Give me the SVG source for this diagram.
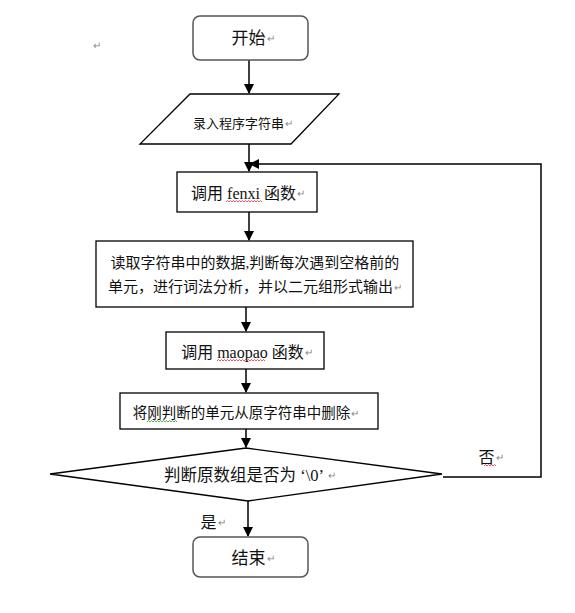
<svg xmlns="http://www.w3.org/2000/svg" width="575" height="613" viewBox="0 0 575 613">
<style>
.box{fill:#fff;stroke:#000;stroke-width:1.3}
.rbox{fill:#fff;stroke:#555;stroke-width:1.5}
.t{font-family:"Liberation Serif","Noto Sans CJK SC",serif;fill:#111;text-anchor:middle;dominant-baseline:central}
.pm{fill:#888;font-size:10px}
.ln{fill:none;stroke:#000;stroke-width:1.5}
.wav{fill:none;stroke:#e03030;stroke-width:0.8}
.wavg{fill:none;stroke:#2a9a2a;stroke-width:0.8}
</style>
<defs>
<marker id="ah" markerWidth="10" markerHeight="10" refX="9" refY="5" orient="auto" markerUnits="userSpaceOnUse">
<path d="M0,0 L10,5 L0,10 z" fill="#000"/>
</marker>
</defs>
<rect width="575" height="613" fill="#fff"/>
<text class="t pm" x="97" y="45">↵</text>
<g id="connectors">
<line class="ln" x1="249" y1="60" x2="249" y2="93" marker-end="url(#ah)"/>
<line class="ln" x1="249" y1="144" x2="249" y2="171" marker-end="url(#ah)"/>
<line class="ln" x1="249" y1="212" x2="249" y2="240" marker-end="url(#ah)"/>
<line class="ln" x1="246" y1="307" x2="246" y2="331" marker-end="url(#ah)"/>
<line class="ln" x1="246" y1="369" x2="246" y2="392" marker-end="url(#ah)"/>
<line class="ln" x1="246" y1="429" x2="246" y2="447" marker-end="url(#ah)"/>
<line class="ln" x1="248" y1="501" x2="248" y2="536" marker-end="url(#ah)"/>
<polyline class="ln" points="443,477 541,477 541,164 250,164" marker-end="url(#ah)"/>
<text class="t" x="491" y="457" font-size="16">否<tspan class="pm" dx="1">↵</tspan></text>
<path class="wav" d="M484,466 l1.5,-1.5 l1.5,1.5 l1.5,-1.5 l1.5,1.5 l1.5,-1.5 l1.5,1.5 l1.5,-1.5 l1.5,1.5"/>
<text class="t" x="213" y="522" font-size="16">是<tspan class="pm" dx="1">↵</tspan></text>
</g>
<g id="start">
<rect class="rbox" x="193" y="16" width="115" height="44" rx="7"/>
<text class="t" x="253" y="38" font-size="17">开始<tspan class="pm" dx="1">↵</tspan></text>
</g>
<g id="input">
<polygon class="box" points="190,94 339,94 291,144 140,144"/>
<text class="t" x="243" y="123" font-size="13">录入程序字符串<tspan class="pm" dx="1">↵</tspan></text>
</g>
<g id="fenxi">
<rect class="box" x="177" y="172" width="140" height="40"/>
<text class="t" x="248" y="193" font-size="16">调用 fenxi 函数<tspan class="pm" dx="1">↵</tspan></text>
<path class="wav" d="M226,202 l1.5,-1.5 l1.5,1.5 l1.5,-1.5 l1.5,1.5 l1.5,-1.5 l1.5,1.5 l1.5,-1.5 l1.5,1.5 l1.5,-1.5 l1.5,1.5 l1.5,-1.5 l1.5,1.5 l1.5,-1.5 l1.5,1.5 l1.5,-1.5 l1.5,1.5 l1.5,-1.5 l1.5,1.5 l1.5,-1.5 l1.5,1.5 l1.5,-1.5 l1.5,1.5 l1.5,-1.5 l1.5,1.5"/>
</g>
<g id="read">
<rect class="box" x="96" y="241" width="317" height="66"/>
<text class="t" x="255" y="263" font-size="15">读取字符串中的数据,判断每次遇到空格前的</text>
<text class="t" x="255" y="287" font-size="15">单元，进行词法分析，并以二元组形式输出<tspan class="pm" dx="1">↵</tspan></text>
</g>
<g id="maopao">
<rect class="box" x="166" y="332" width="158" height="37"/>
<text class="t" x="247" y="352" font-size="16">调用 maopao 函数<tspan class="pm" dx="1">↵</tspan></text>
<path class="wav" d="M217,361 l1.5,-1.5 l1.5,1.5 l1.5,-1.5 l1.5,1.5 l1.5,-1.5 l1.5,1.5 l1.5,-1.5 l1.5,1.5 l1.5,-1.5 l1.5,1.5 l1.5,-1.5 l1.5,1.5 l1.5,-1.5 l1.5,1.5 l1.5,-1.5 l1.5,1.5 l1.5,-1.5 l1.5,1.5 l1.5,-1.5 l1.5,1.5 l1.5,-1.5 l1.5,1.5 l1.5,-1.5 l1.5,1.5 l1.5,-1.5 l1.5,1.5 l1.5,-1.5 l1.5,1.5 l1.5,-1.5 l1.5,1.5 l1.5,-1.5 l1.5,1.5"/>
</g>
<g id="delete">
<rect class="box" x="120" y="393" width="258" height="36"/>
<text class="t" x="246" y="413" font-size="14.5">将刚判断的单元从原字符串中删除<tspan class="pm" dx="1">↵</tspan></text>
<path class="wavg" d="M147,422 l1.5,-1.5 l1.5,1.5 l1.5,-1.5 l1.5,1.5 l1.5,-1.5 l1.5,1.5 l1.5,-1.5 l1.5,1.5 l1.5,-1.5 l1.5,1.5 l1.5,-1.5 l1.5,1.5 l1.5,-1.5 l1.5,1.5 l1.5,-1.5 l1.5,1.5 l1.5,-1.5 l1.5,1.5 l1.5,-1.5 l1.5,1.5"/>
</g>
<g id="decision">
<polygon class="box" points="246,448 442,474 248,501 50,474"/>
<text class="t" x="250" y="475" font-size="16.5">判断原数组是否为 ‘\0’ <tspan class="pm" dx="1">↵</tspan></text>
</g>
<g id="end">
<rect class="rbox" x="193" y="537" width="115" height="40" rx="7"/>
<text class="t" x="253" y="558" font-size="17">结束<tspan class="pm" dx="1">↵</tspan></text>
</g>
</svg>
